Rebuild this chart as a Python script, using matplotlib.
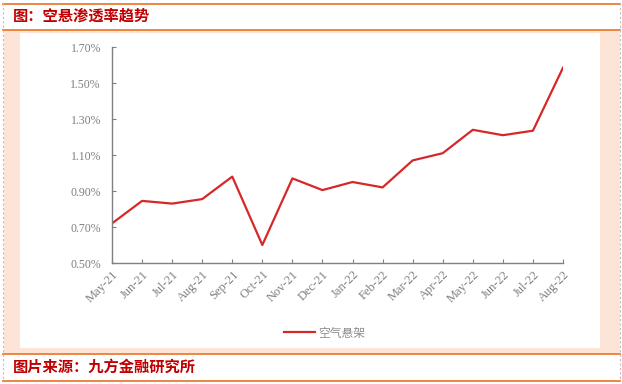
import matplotlib
matplotlib.use("Agg")
import matplotlib.pyplot as plt
from matplotlib.patches import Rectangle
from matplotlib.lines import Line2D

months = ["May-21", "Jun-21", "Jul-21", "Aug-21", "Sep-21", "Oct-21", "Nov-21", "Dec-21",
          "Jan-22", "Feb-22", "Mar-22", "Apr-22", "May-22", "Jun-22", "Jul-22", "Aug-22"]
penetration = [0.72, 0.845, 0.83, 0.855, 0.98, 0.60, 0.97, 0.905,
               0.95, 0.92, 1.07, 1.11, 1.24, 1.21, 1.235, 1.585]
y_ticks = [0.50, 0.70, 0.90, 1.10, 1.30, 1.50, 1.70]
series_name = "空气悬架"
title_text = "图：空悬渗透率趋势"
source_text = "图片来源：九方金融研究所"

W, H = 622, 384
fig = plt.figure(figsize=(W / 100, H / 100), dpi=100)
fig.patch.set_facecolor("white")

def fx(x):
    return x / W

def fy(y):
    return 1 - y / H

# peach band and white panel
fig.patches.append(Rectangle((fx(4), fy(353)), fx(616), (353 - 30) / H,
                             transform=fig.transFigure, facecolor="#FCE4D6", edgecolor="none", zorder=-5))
fig.patches.append(Rectangle((fx(20), fy(348)), fx(580), (348 - 33) / H,
                             transform=fig.transFigure, facecolor="white", edgecolor="none", zorder=-4))
# orange rules
orange = "#ED7D31"
for yy in [3.5, 29.5, 354, 380.5]:
    fig.add_artist(Line2D([fx(3), fx(620)], [fy(yy), fy(yy)], transform=fig.transFigure,
                          color=orange, lw=1.3))
# dashed grey side borders
for xx in [3, 620]:
    fig.add_artist(Line2D([fx(xx), fx(xx)], [fy(3), fy(381)], transform=fig.transFigure,
                          color="#BFBFBF", lw=0.8, ls=(0, (2, 2))))

cjk = ["Noto Sans CJK SC", "DejaVu Sans"]
fig.text(fx(13), fy(16), title_text, family=cjk, fontsize=11, fontweight="bold",
         color="#C00000", va="center", ha="left")
fig.text(fx(13), fy(367), source_text, family=cjk, fontsize=11, fontweight="bold",
         color="#C00000", va="center", ha="left")

ax = fig.add_axes([fx(112), fy(263), (563 - 112) / W, (263 - 47) / H])
ax.set_zorder(2)
ax.patch.set_alpha(0)
x = list(range(len(months)))
line, = ax.plot(x, penetration, color="#D62828", lw=1.6, label=series_name)
ax.set_xlim(0, len(months) - 1)
ax.set_ylim(0.5, 1.7)
ax.set_yticks(y_ticks)
ax.set_yticklabels([f"{v:.2f}%" for v in y_ticks])
ax.set_xticks(x)
ax.set_xticklabels(months, rotation=45, ha="right", va="top", rotation_mode="anchor")
for s in ["top", "right"]:
    ax.spines[s].set_visible(False)
for s in ["left", "bottom"]:
    ax.spines[s].set_color("#808080")
    ax.spines[s].set_linewidth(1.0)
ax.tick_params(axis="both", direction="in", length=3, width=0.8, color="#808080",
               labelcolor="#7F7F7F", labelsize=8.5)
ax.tick_params(axis="x", labelsize=9, pad=4)
ax.tick_params(axis="y", pad=8)
for lab in ax.get_xticklabels() + ax.get_yticklabels():
    lab.set_family("Liberation Serif")

leg = fig.legend(handles=[line], labels=[series_name], loc="center",
                 bbox_to_anchor=(fx(325), fy(333)), frameon=False,
                 prop={"family": cjk, "size": 8.5}, handlelength=2.6, handletextpad=0.3)
leg.set_zorder(3)
for t in leg.get_texts():
    t.set_color("#8C8C8C")

fig.savefig("out.png", dpi=100, facecolor="white")
